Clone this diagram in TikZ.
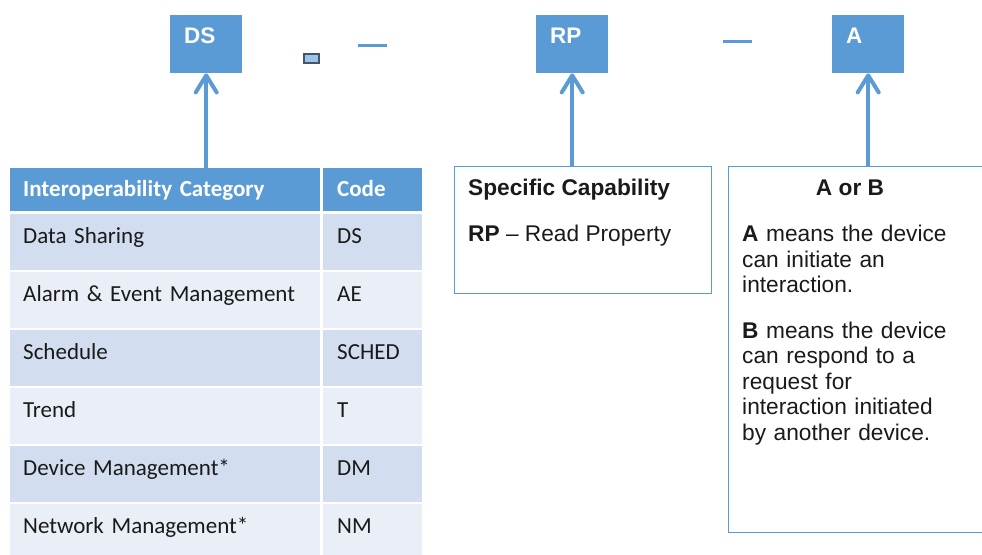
\documentclass[tikz,border=0pt]{standalone}
\usepackage{fontspec}
\setmainfont{Liberation Sans}
\newfontfamily\calibri{Carlito}
\usetikzlibrary{arrows.meta}
\definecolor{boxblue}{HTML}{5B9BD5}
\definecolor{rowdark}{HTML}{D2DEEF}
\definecolor{rowlight}{HTML}{EAEFF7}
\definecolor{slate}{HTML}{44546A}
\definecolor{dashfill}{HTML}{9DC3E6}
\definecolor{ink}{HTML}{1A1A1A}

\begin{document}
\begin{tikzpicture}[x=1pt, y=-1pt,
    codebox/.style={anchor=north west, fill=boxblue, text=white,
        font=\fontsize{22.5}{26}\selectfont\bfseries, text width=44pt,
        inner xsep=14pt, inner ysep=0pt, text height=28pt, text depth=30pt, align=left},
    infobox/.style={anchor=north west, draw=boxblue, line width=1.2pt, inner sep=0pt},
    info/.style={anchor=north west, inner sep=0pt, align=left, text=ink,
        font=\fontsize{22.7}{25.5}\selectfont},
    cell/.style={anchor=north west, inner ysep=0pt, align=left, text=ink,
        font=\calibri\fontsize{23}{27}\selectfont},
    namecol/.style={cell, text width=284pt, inner xsep=13pt},
    codecol/.style={cell, text width=71pt, inner xsep=14pt},
    hdr/.style={fill=boxblue, text=white, text height=28pt, text depth=15pt,
        font=\calibri\fontsize{23}{27}\selectfont\bfseries},
    row/.style={text height=29pt, text depth=27pt},
    arr/.style={-{Straight Barb[length=17pt, width=21pt, round]}, line width=4pt, boxblue}]
    \useasboundingbox (0,0) rectangle (982,554);

    % Code boxes at the top
    \node[codebox] (dsbox) at (170,15) {DS};
    \node[codebox] (rpbox) at (536,15) {RP};
    \node[codebox] (abox) at (832,15) {A};

    % Separators between the codes
    \draw[slate, fill=dashfill, line width=1.5pt] (304,54) rectangle (319,63);
    \draw[boxblue, line width=3pt] (358,45) -- (387,45);
    \draw[boxblue, line width=3pt] (723,41) -- (752,41);

    % Table of categories
    \node[namecol, hdr] (hdrName) at (10,168) {Interoperability Category};
    \node[codecol, hdr] (hdrCode) at (323,168) {Code};
    \node[namecol, row, fill=rowdark] (catDS) at (10,214) {Data Sharing};
    \node[codecol, row, fill=rowdark] (codeDS) at (323,214) {DS};
    \node[namecol, row, fill=rowlight] (catAE) at (10,272) {Alarm \& Event Management};
    \node[codecol, row, fill=rowlight] (codeAE) at (323,272) {AE};
    \node[namecol, row, fill=rowdark] (catSCHED) at (10,330) {Schedule};
    \node[codecol, row, fill=rowdark] (codeSCHED) at (323,330) {SCHED};
    \node[namecol, row, fill=rowlight] (catT) at (10,388) {Trend};
    \node[codecol, row, fill=rowlight] (codeT) at (323,388) {T};
    \node[namecol, row, fill=rowdark] (catDM) at (10,446) {Device Management*};
    \node[codecol, row, fill=rowdark] (codeDM) at (323,446) {DM};
    \node[namecol, row, fill=rowlight] (catNM) at (10,504) {Network Management*};
    \node[codecol, row, fill=rowlight] (codeNM) at (323,504) {NM};

    % Capability box
    \node[infobox, minimum width=257pt, minimum height=127pt] (cap) at (454,166) {};
    \node[info] (capText) at (468,179) {\textbf{Specific Capability}\\[20pt]\textbf{RP} – Read Property};

    % A or B box
    \node[infobox, minimum width=270pt, minimum height=366pt] (aorb) at (728,166) {};
    \node[info, anchor=base, font=\fontsize{22.7}{25.5}\selectfont\bfseries] (aorbTitle) at (850,195) {A or B};
    \node[info, text width=236pt] (aorbText) at (742,225) {\textbf{A} means the device\\can initiate an\\interaction.\\[20pt]%
        \textbf{B} means the device\\can respond to a\\request for\\interaction initiated\\by another device.};

    % Arrows up to the codes
    \draw[arr] (dsbox.south |- hdrName.north) -- (dsbox.south);
    \draw[arr] (rpbox.south |- cap.north) -- (rpbox.south);
    \draw[arr] (abox.south |- aorb.north) -- (abox.south);
\end{tikzpicture}
\end{document}
